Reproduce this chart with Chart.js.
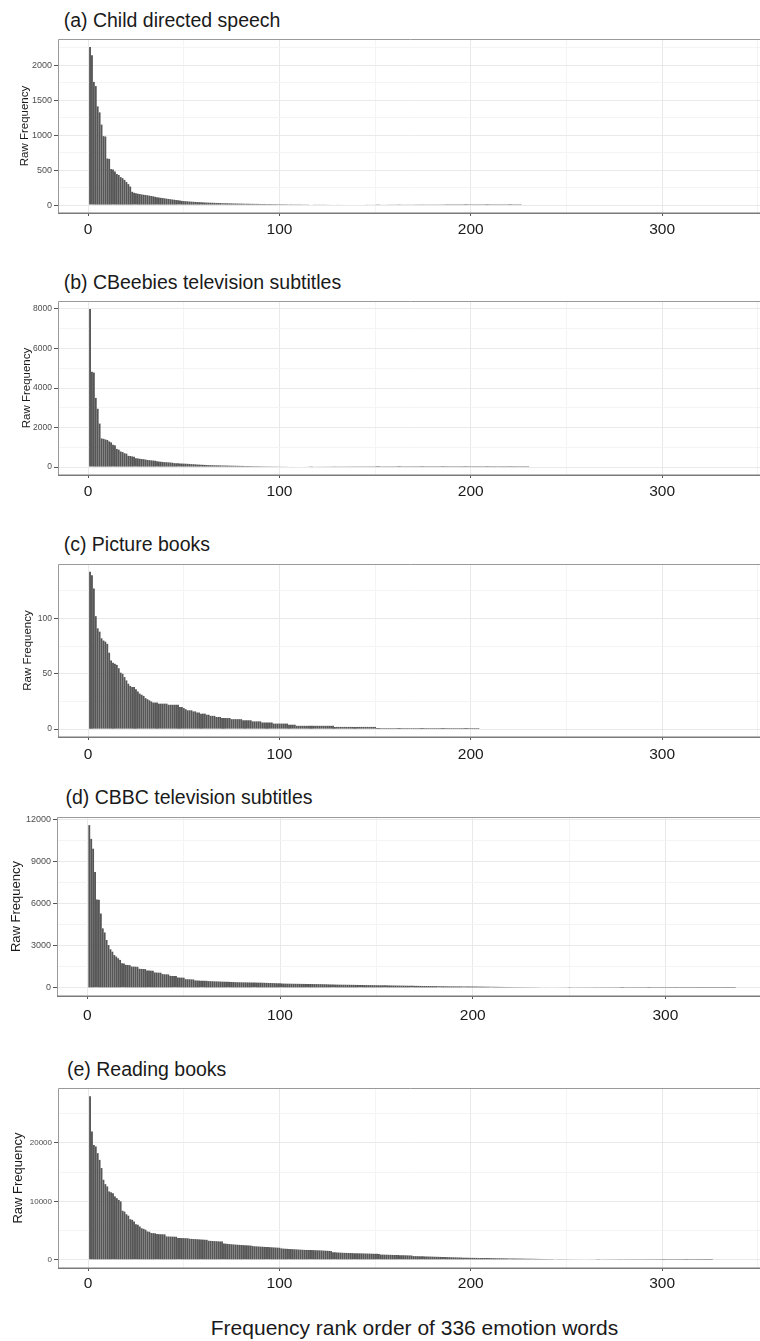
<!DOCTYPE html>
<html><head><meta charset="utf-8">
<script src="https://cdn.jsdelivr.net/npm/chart.js@4.4.1/dist/chart.umd.min.js"></script>
<style>
html,body{margin:0;padding:0;background:#fff;}
body{width:760px;height:1341px;position:relative;overflow:hidden;font-family:"Liberation Sans",Arial,Helvetica,sans-serif;}
.ptitle{position:absolute;font-size:19.5px;line-height:20px;color:#1a1a1a;white-space:nowrap;}
.xtitle{position:absolute;left:0;width:829px;text-align:center;font-size:21px;line-height:24px;color:#1a1a1a;white-space:nowrap;}
canvas{position:absolute;left:0;}
</style></head><body>
<script>
// ---------------- data ----------------
const panelTitles = ["(a) Child directed speech","(b) CBeebies television subtitles","(c) Picture books","(d) CBBC television subtitles","(e) Reading books"];
const yAxisTitle = "Raw Frequency";
const xAxisTitle = "Frequency rank order of 336 emotion words";

const xMajorTicks = [0,100,200,300];
const xMinorTicks = [50,150,250,350];

const yMajorA = [0,500,1000,1500,2000];
const yMinorA = [250,750,1250,1750,2250];
const yMajorB = [0,2000,4000,6000,8000];
const yMinorB = [1000,3000,5000,7000];
const yMajorC = [0,50,100];
const yMinorC = [25,75,125];
const yMajorD = [0,3000,6000,9000,12000];
const yMinorD = [1500,4500,7500,10500];
const yMajorE = [0,10000,20000];
const yMinorE = [5000,15000,25000];

// raw frequency by rank (rank = position + 1)
const childDirectedSpeech = [
2260,2140,1760,1700,1410,1325,1150,985,980,665,
660,515,510,480,445,430,400,385,360,330,
300,265,190,175,168,162,158,152,148,144,
140,135,130,125,118,112,108,104,100,96,
92,88,84,80,76,72,68,64,60,57,
55,53,51,49,47,45,43,42,40,39,
37,36,35,34,33,32,31,30,29,28,
27,26,25,25,24,23,23,22,21,21,
20,20,19,19,18,18,17,17,17,16,
16,16,15,15,15,14,14,14,13,13,
13,13,12,12,12,12,11,11,11,11,
11,10,10,10,10,10,10,9,9,9,
9,9,9,9,8,8,8,8,8,8,
8,8,8,7,7,7,7,7,7,7,
7,7,7,7,6,6,6,6,6,6,
6,6,6,6,6,6,5,5,5,5,
5,5,5,5,5,5,5,5,5,5,
4,4,4,4,4,4,4,4,4,4,
4,4,4,4,4,4,2,2,2,2,
2,2,2,2,2,2,2,2,2,2,
2,2,2,2,2,2,2,2,2,2,
2,2,2,2,2,2,2,2,2,2,
2,2,2,2,2,2];

const cbeebiesSubtitles = [
8000,4820,4780,3500,2950,2200,1450,1430,1400,1370,
1300,1250,1130,1100,920,880,790,760,700,680,
570,560,540,520,450,440,420,410,400,380,
360,350,340,330,320,300,280,270,260,250,
245,240,230,220,200,195,190,185,180,175,
170,165,160,150,145,140,130,125,120,115,
110,105,100,98,95,92,90,87,85,82,
80,78,75,73,70,68,66,64,62,60,
58,56,54,52,50,48,47,46,45,44,
42,41,40,39,38,37,36,35,34,33,
32,31,30,30,29,28,27,27,26,25,
25,24,23,23,22,22,21,21,20,20,
19,19,18,18,17,17,16,16,16,15,
15,15,14,14,14,13,13,13,12,12,
12,12,11,11,11,11,10,10,10,10,
9,9,9,9,9,8,8,8,8,8,
8,7,7,7,7,7,7,6,6,6,
6,6,6,6,5,5,5,5,5,5,
5,5,5,4,4,4,4,4,4,4,
4,4,4,3,3,3,3,3,3,3,
3,3,3,3,3,3,3,3,3,3,
2,2,2,2,2,2,2,2,2,2,
2,2,2,2,2,2,2,2,2,2];

const pictureBooks = [
142,139,127,102,91,88,82,80,79,77,
69,62,60,59,58,55,51,50,47,44,
41,39,38,38,36,34,32,31,30,28,
27,26,25,24,24,24,23,23,23,23,
23,22,22,22,22,22,22,20,20,19,
18,17,17,17,16,16,15,15,14,14,
14,13,13,12,12,12,11,11,11,10,
10,10,10,10,9,9,9,9,9,9,
8,8,8,8,8,7,7,7,7,7,
6,6,6,6,6,6,5,5,5,5,
5,5,5,5,4,4,4,4,3,3,
3,3,3,3,3,3,3,3,3,3,
3,3,3,3,3,3,3,3,2,2,
2,2,2,2,2,2,2,2,2,2,
2,2,2,2,2,2,2,2,2,2,
1,1,1,1,1,1,1,1,1,1,
1,1,1,1,1,1,1,1,1,1,
1,1,1,1,1,1,1,1,1,1,
1,1,1,1,1,1,1,1,1,1,
1,1,1,1,1,1,1,1,1,1,
1,1,1,1];

const cbbcSubtitles = [
11600,10620,9920,8260,6300,6280,5300,4240,3950,3410,
3050,2750,2580,2340,2230,2110,1990,1760,1740,1640,
1630,1620,1520,1515,1510,1500,1360,1350,1345,1340,
1240,1230,1225,1220,1100,1090,1085,1080,980,970,
965,960,860,850,845,840,740,735,730,725,
620,615,610,605,600,530,525,520,515,510,
505,500,480,475,470,465,460,455,450,445,
440,435,430,425,420,410,405,400,398,395,
392,390,388,385,382,380,378,375,372,370,
365,360,355,350,345,340,335,330,325,320,
310,305,300,298,296,294,292,290,288,286,
284,282,280,278,276,274,272,270,268,266,
264,262,260,255,250,245,240,235,232,230,
228,226,224,222,220,218,216,214,212,210,
208,206,204,202,200,198,196,194,192,190,
188,186,184,182,180,177,175,172,170,168,
165,163,160,158,155,153,150,148,146,144,
142,140,138,136,134,132,130,128,126,124,
122,120,118,116,114,112,110,109,108,107,
106,105,104,103,102,101,100,99,98,97,
96,94,92,90,88,86,84,82,80,78,
76,74,72,70,68,66,64,62,60,58,
56,55,54,53,52,51,50,49,48,47,
46,45,44,43,42,41,40,39,38,37,
36,35,34,33,32,31,30,29,28,27,
26,26,25,25,24,24,23,23,22,22,
21,21,20,20,19,19,18,18,17,17,
16,16,15,15,14,14,13,13,12,12,
11,11,10,10,10,9,9,9,8,8,
8,7,7,7,6,6,6,5,5,5,
5,4,4,4,4,4,3,3,3,3,
3,3,3,2,2,2,2,2,2,2,
2,2,1,1,1,1,1,1,1,1,
1,1,1,1,1,1];

const readingBooks = [
28000,21950,19650,19400,18250,17100,15700,13700,12950,12550,
11700,11550,11400,10850,10550,10250,10000,8400,8250,7800,
7550,6950,6850,6550,6100,6000,5700,5400,5300,5150,
4850,4800,4580,4560,4540,4400,4390,4380,4370,4350,
4000,3990,3980,3970,3960,3950,3750,3730,3720,3710,
3700,3690,3600,3580,3560,3540,3520,3500,3480,3460,
3440,3420,3260,3240,3220,3200,3180,3160,3140,3120,
2800,2760,2720,2690,2660,2630,2600,2580,2560,2540,
2520,2500,2480,2460,2440,2350,2320,2300,2280,2260,
2240,2220,2200,2180,2160,2140,2120,2100,2080,2060,
1950,1920,1900,1880,1860,1840,1820,1800,1780,1760,
1740,1720,1700,1690,1680,1670,1660,1650,1640,1630,
1620,1600,1580,1560,1540,1520,1500,1300,1280,1260,
1240,1220,1200,1190,1180,1170,1160,1150,1140,1130,
1120,1110,1100,1090,1080,1070,1060,1050,1040,1030,
1020,1010,900,890,880,870,860,850,840,830,
820,810,800,790,780,770,760,750,740,640,
630,620,610,600,590,580,570,560,550,540,
530,520,510,500,490,480,470,460,450,440,
430,420,410,400,390,360,355,350,345,340,
335,330,325,320,315,310,305,300,295,290,
285,280,275,270,265,260,255,250,245,240,
235,230,225,220,215,210,205,200,190,185,
180,175,170,165,160,155,150,145,140,135,
130,125,120,118,116,114,112,110,108,106,
104,102,100,98,96,94,90,88,86,84,
82,80,78,76,74,72,70,68,66,64,
62,60,58,56,54,52,50,49,48,47,
46,45,44,43,42,41,40,39,38,37,
36,35,34,33,32,31,30,29,28,27,
26,25,24,23,22,21,20,19,18,17,
16,15,14,13,12,11,10,9,8,7,
6,5,4,3,2,1];

// ---------------- layout / style ----------------
const seriesList = [childDirectedSpeech, cbeebiesSubtitles, pictureBooks, cbbcSubtitles, readingBooks];
const yMajorList = [yMajorA, yMajorB, yMajorC, yMajorD, yMajorE];
const yMinorList = [yMinorA, yMinorB, yMinorC, yMinorD, yMinorE];
const panelLayout = [
  {plotTop:39,   plotBottom:213,  left:58, right:763, titleLeft:63.7, titleTop:10.2,   yTickSize:9,   yTitleSize:11.5, yTitleX:24.5, xLabelOff:17},
  {plotTop:301,  plotBottom:475,  left:58, right:763, titleLeft:63.7, titleTop:271.9,  yTickSize:8.5, yTitleSize:11.5, yTitleX:26.5, xLabelOff:17},
  {plotTop:564,  plotBottom:737,  left:58, right:763, titleLeft:63.7, titleTop:533.9,  yTickSize:8.5, yTitleSize:11.5, yTitleX:27.5, xLabelOff:18},
  {plotTop:817,  plotBottom:996,  left:57, right:767, titleLeft:65.4, titleTop:787.2,  yTickSize:9,   yTitleSize:13,   yTitleX:16.5, xLabelOff:20},
  {plotTop:1088, plotBottom:1268, left:58, right:763, titleLeft:67,   titleTop:1059.2, yTickSize:8,   yTitleSize:13,   yTitleX:18,   xLabelOff:16}
];
const FONT = "'Liberation Sans', Arial, Helvetica, sans-serif";
Chart.defaults.font.family = FONT;

const panelBorder = {
  id: 'panelBorder',
  afterDraw(chart) {
    const {ctx, chartArea: a} = chart;
    ctx.save();
    ctx.strokeStyle = '#9a9a9a';
    ctx.lineWidth = 1;
    ctx.beginPath();
    ctx.moveTo(a.left + 0.5, a.bottom);
    ctx.lineTo(a.left + 0.5, a.top + 0.5);
    ctx.lineTo(a.right - 0.5, a.top + 0.5);
    ctx.lineTo(a.right - 0.5, a.bottom);
    ctx.stroke();
    ctx.strokeStyle = '#7a7a7a';
    ctx.lineWidth = 1.5;
    ctx.beginPath();
    ctx.moveTo(a.left, a.bottom + 0.25);
    ctx.lineTo(a.right, a.bottom + 0.25);
    ctx.stroke();
    ctx.restore();
  }
};

const CANVAS_W = 775, PAD_TOP = 4, X_AXIS_H = 34;

function makePanel(i) {
  const L = panelLayout[i];
  const vals = seriesList[i];
  const pts = vals.map((v, k) => ({x: k + 1, y: v}));
  const M = Math.max(...vals);
  const majY = yMajorList[i];
  const allY = [...majY, ...yMinorList[i]].sort((a, b) => a - b);
  const allX = [...xMajorTicks, ...xMinorTicks].sort((a, b) => a - b);

  const t = document.createElement('div');
  t.className = 'ptitle';
  t.textContent = panelTitles[i];
  t.style.left = L.titleLeft + 'px';
  t.style.top = L.titleTop + 'px';
  document.body.appendChild(t);

  const cv = document.createElement('canvas');
  const H = PAD_TOP + (L.plotBottom - L.plotTop) + X_AXIS_H;
  cv.width = CANVAS_W; cv.height = H;
  cv.style.width = CANVAS_W + 'px'; cv.style.height = H + 'px';
  cv.style.top = (L.plotTop - PAD_TOP) + 'px';
  document.body.appendChild(cv);

  new Chart(cv, {
    type: 'bar',
    data: { datasets: [{ data: pts, backgroundColor: '#565656', borderWidth: 0, barPercentage: 0.97, categoryPercentage: 1.0 }] },
    options: {
      responsive: false, animation: false, devicePixelRatio: 1,
      layout: { padding: { top: PAD_TOP, right: CANVAS_W - L.right, bottom: 0, left: 0 } },
      plugins: { legend: {display: false}, tooltip: {enabled: false}, title: {display: false} },
      scales: {
        x: {
          type: 'linear', min: -15.75, max: 352.75, offset: false,
          afterBuildTicks: s => { s.ticks = allX.map(v => ({value: v})); },
          afterFit: s => { s.height = X_AXIS_H; s.paddingLeft = 0; s.paddingRight = 0; },
          ticks: {
            autoSkip: false, maxRotation: 0, minRotation: 0,
            padding: L.xLabelOff - 3 - 9.3, color: '#1a1a1a',
            font: {size: 15.5},
            callback: v => xMajorTicks.includes(v) ? String(v) : ''
          },
          grid: {
            offset: false, lineWidth: 1, tickLength: 3, drawTicks: true,
            color: c => (c.tick && xMajorTicks.includes(c.tick.value)) ? '#e9e9e9' : '#f4f4f4',
            tickColor: c => (c.tick && xMajorTicks.includes(c.tick.value)) ? '#555555' : 'rgba(0,0,0,0)'
          },
          border: {display: false}
        },
        y: {
          type: 'linear', min: -0.05 * M, max: 1.05 * M, beginAtZero: false,
          afterBuildTicks: s => { s.ticks = allY.map(v => ({value: v})); },
          afterFit: s => { s.width = L.left; s.paddingTop = 0; s.paddingBottom = 0; },
          ticks: {
            autoSkip: false, padding: 2, color: '#4d4d4d',
            font: {size: L.yTickSize},
            callback: v => majY.includes(v) ? String(v) : ''
          },
          grid: {
            lineWidth: 1, tickLength: 4, drawTicks: true,
            color: c => (c.tick && majY.includes(c.tick.value)) ? '#e9e9e9' : '#f4f4f4',
            tickColor: c => (c.tick && majY.includes(c.tick.value)) ? '#555555' : 'rgba(0,0,0,0)'
          },
          border: {display: false},
          title: {
            display: true, text: yAxisTitle, color: '#1a1a1a',
            font: {size: L.yTitleSize},
            padding: {top: L.yTitleX - L.yTitleSize * 0.6, bottom: 0}
          }
        }
      }
    },
    plugins: [panelBorder]
  });
}

for (let i = 0; i < seriesList.length; i++) makePanel(i);

const xt = document.createElement('div');
xt.className = 'xtitle';
xt.textContent = xAxisTitle;
xt.style.top = '1315.7px';
document.body.appendChild(xt);
</script>
</body></html>
